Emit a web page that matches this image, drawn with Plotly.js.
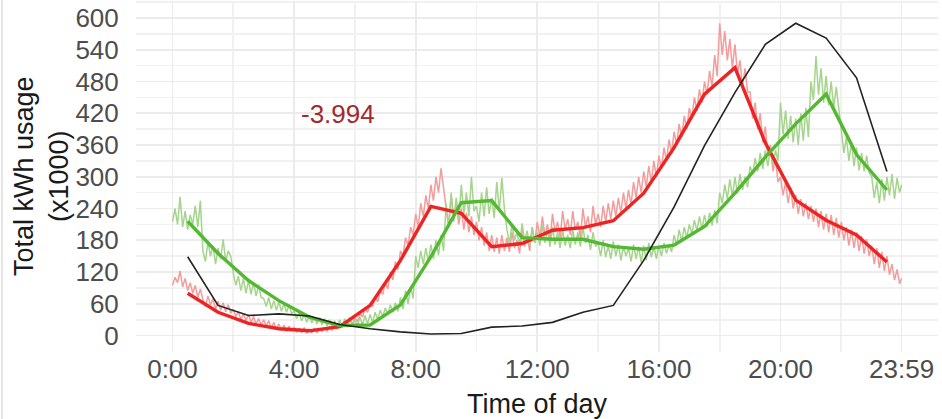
<!DOCTYPE html>
<html>
<head>
<meta charset="utf-8">
<script src="https://cdn.plot.ly/plotly-3.0.1.min.js"></script>
<style>
  html, body { margin: 0; padding: 0; background: #ffffff; }
  #wrap { position: relative; width: 942px; height: 419px; overflow: hidden; }
  #chart { width: 942px; height: 419px; }
  #edge { position: absolute; left: 1px; top: 0; width: 2px; height: 419px; background: #e4e4e4; }
</style>
</head>
<body>
<div id="wrap"><div id="chart"></div><div id="edge"></div></div>
<script>
// ---- hourly averages (hours from midnight, centred on the half hour) ----
const hourMid = [0.5,1.5,2.5,3.5,4.5,5.5,6.5,7.5,8.5,9.5,10.5,11.5,12.5,13.5,14.5,15.5,16.5,17.5,18.5,19.5,20.5,21.5,22.5,23.5];
const blackAvg = [149,57,38,41,37,21,13,7,3,4,16,18,25,44,57,142,243,359,459,550,590,562,487,310];
const redAvg   = [80,44,23,13,9,17,57,142,244,231,168,174,199,204,217,269,355,456,506,364,256,218,190,139];
const greenAvg = [216,155,104,66,35,19,20,58,149,251,255,185,182,182,168,163,171,206,269,337,400,456,342,275];

// ---- raw (noisy) readings, twelve per hour (every 5 minutes) + final 23:59 ----
const redRaw = [
  95,110,100,122,92,108,85,100,80,95,72,88,
  68,55,75,58,70,50,65,48,62,45,58,42,
  50,36,45,30,42,28,40,25,36,22,32,20,
  30,18,28,14,25,12,22,10,20,8,18,9,
  16,6,14,5,15,4,12,6,14,5,13,8,
  14,8,18,10,20,12,22,16,26,18,30,22,
  34,26,42,35,52,44,60,55,72,64,85,78,
  100,88,120,105,140,125,160,150,185,170,205,190,
  230,205,250,225,265,240,285,255,300,270,316,280,
  240,205,265,220,250,210,240,200,232,195,225,190,
  215,180,205,170,195,160,190,158,185,155,190,160,
  185,158,195,165,180,155,200,168,185,160,205,175,
  215,185,225,190,210,180,230,195,215,185,235,200,
  220,190,235,200,215,185,240,205,225,195,245,210,
  230,205,245,215,250,220,255,225,260,232,270,240,
  275,248,290,260,300,270,310,280,320,290,330,300,
  340,315,355,330,370,345,385,360,400,375,415,390,
  430,410,450,425,465,440,480,455,500,470,530,490,
  590,530,575,520,560,505,550,495,520,470,505,460,
  460,410,440,390,420,365,395,340,360,310,335,290,
  300,265,290,250,280,240,265,230,258,225,250,220,
  245,215,240,205,235,200,230,195,228,190,222,185,
  215,180,205,170,200,165,195,160,188,155,182,150,
  170,135,165,128,158,122,150,115,135,105,125,98,
  108
];
const greenRaw = [
  215,240,210,262,205,235,200,228,210,245,205,255,
  160,140,178,150,170,135,165,145,182,140,160,150,
  118,95,112,85,108,80,104,78,100,75,96,72,
  70,55,72,50,66,48,64,46,60,44,58,42,
  46,32,42,28,40,25,38,24,35,22,34,20,
  32,18,30,16,28,15,30,17,32,18,34,20,
  30,18,35,20,38,22,40,25,44,30,48,36,
  52,40,58,44,62,46,72,50,85,60,93,70,
  150,128,160,135,165,140,172,145,180,152,190,160,
  250,205,270,215,260,220,285,230,270,225,300,235,
  245,215,270,225,280,230,260,222,290,235,298,240,
  200,175,210,180,195,170,212,178,198,168,205,175,
  195,170,210,175,200,168,205,172,195,165,200,170,
  190,165,200,172,195,168,205,175,190,162,195,168,
  175,150,180,148,170,145,178,150,172,142,168,150,
  165,140,172,145,168,138,170,142,175,148,168,145,
  170,150,175,155,172,158,190,170,200,178,205,185,
  210,192,218,198,225,200,228,205,232,208,237,212,
  270,250,285,258,295,262,300,268,305,275,300,280,
  320,305,335,310,345,315,350,320,355,322,350,330,
  440,380,425,372,415,365,410,360,420,368,430,375,
  480,445,528,455,505,440,490,435,480,430,470,428,
  390,345,375,330,365,320,355,312,345,310,340,308,
  300,260,290,250,295,255,300,265,305,258,298,270,
  285
];

// ---- axis ticks and texts ----
const xTickVals = [0,4,8,12,16,20,23.983];
const xTickText = ['0:00','4:00','8:00','12:00','16:00','20:00','23:59'];
const xMinorVals = [2,6,10,14,18,21.99];
const yTickVals = [0,60,120,180,240,300,360,420,480,540,600];
const yMinorVals = [-30,30,90,150,210,270,330,390,450,510,570,630];
const xTitle = 'Time of day';
const yTitle = 'Total kWh usage<br>(x1000)';
const annText = '-3.994';

// raw sample times: every 5 minutes, last one at 23:59
const rawTimes = redRaw.map((_, i) => i < redRaw.length - 1 ? i / 12 : 23.983);

const FONT = 'Liberation Sans, Arial, Helvetica, sans-serif';

const traces = [
  { x: rawTimes, y: redRaw, mode: 'lines', line: {color: '#f39c9c', width: 1.5}, hoverinfo: 'skip' },
  { x: rawTimes, y: greenRaw, mode: 'lines', line: {color: '#a5d48c', width: 1.5}, hoverinfo: 'skip' },
  { x: hourMid, y: redAvg, mode: 'lines', line: {color: '#ec2424', width: 3.4} },
  { x: hourMid, y: greenAvg, mode: 'lines', line: {color: '#55b833', width: 3.4} },
  { x: hourMid, y: blackAvg, mode: 'lines', line: {color: '#222222', width: 1.6} }
];

const layout = {
  width: 942, height: 419,
  margin: {l: 136, r: 4, t: 1, b: 67},
  paper_bgcolor: '#ffffff', plot_bgcolor: '#ffffff',
  showlegend: false,
  font: {family: FONT, color: '#4d4d4d', size: 26},
  xaxis: {
    range: [-1.2, 25.18],
    tickmode: 'array', tickvals: xTickVals, ticktext: xTickText,
    showgrid: true, gridcolor: '#ebebeb', gridwidth: 1.6,
    minor: {tickmode: 'array', tickvals: xMinorVals, showgrid: true, gridcolor: '#f1f1f1', gridwidth: 1.6},
    zeroline: false, showline: false,
    ticks: '', ticklabelstandoff: -1,
    tickfont: {family: FONT, size: 26, color: '#4d4d4d'},
    title: {text: xTitle, font: {family: FONT, size: 27, color: '#1a1a1a'}, standoff: 13}
  },
  yaxis: {
    range: [-31, 632],
    tickmode: 'array', tickvals: yTickVals,
    showgrid: true, gridcolor: '#ebebeb', gridwidth: 1.6,
    minor: {tickmode: 'array', tickvals: yMinorVals, showgrid: true, gridcolor: '#f1f1f1', gridwidth: 1.6},
    zeroline: false, showline: false,
    ticks: 'outside', ticklen: 11, tickcolor: 'rgba(0,0,0,0)',
    tickfont: {family: FONT, size: 26, color: '#4d4d4d'}
  },
  annotations: [
    {x: -0.1178, y: 0.5, xref: 'paper', yref: 'paper', text: yTitle, textangle: -90,
     xanchor: 'center', yanchor: 'middle', showarrow: false,
     font: {family: FONT, size: 27, color: '#1a1a1a'}},
    {x: 5.44, y: 418, xref: 'x', yref: 'y', text: annText, showarrow: false,
     font: {family: FONT, size: 26, color: '#a02a2c'}}
  ]
};

Plotly.newPlot('chart', traces, layout, {displayModeBar: false, staticPlot: true});
</script>
</body>
</html>
